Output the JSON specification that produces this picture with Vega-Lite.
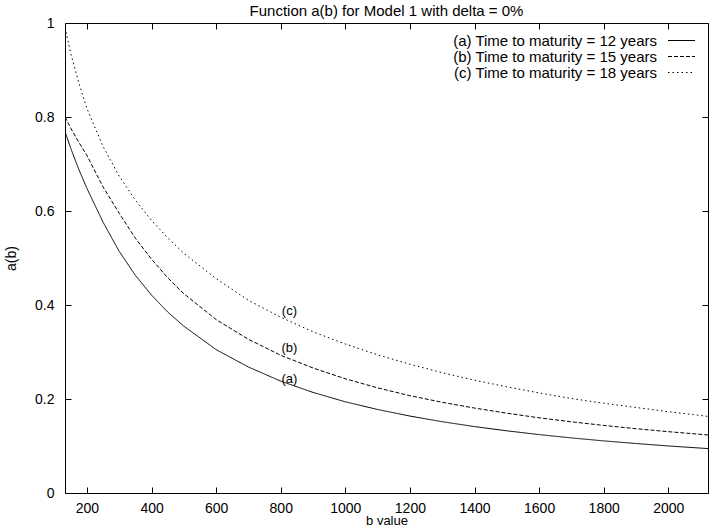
{
  "$schema": "https://vega.github.io/schema/vega-lite/v6.json",
  "width": 643,
  "height": 470,
  "autosize": {"type": "none"},
  "padding": {"left": 65, "top": 23, "right": 1, "bottom": 33},
  "background": "white",
  "title": {"text": "Function a(b) for Model 1 with delta = 0%", "fontSize": 15, "font": "Liberation Sans", "fontWeight": "normal", "offset": -3, "frame": "group", "anchor": "middle", "color": "black"},
  "config": {
    "view": {"stroke": "black", "strokeWidth": 1},
    "font": "Liberation Sans",
    "axis": {"grid": false, "domain": false, "tickColor": "black", "tickSize": -6, "labelColor": "black", "labelFont": "Liberation Sans", "labelFontSize": 14, "titleFont": "Liberation Sans", "titleFontSize": 14, "titleFontWeight": "normal", "titleColor": "black"}
  },
  "datasets": {
    "curves": [
      {"b": 132, "a": 0.769, "series": "(a) Time to maturity = 12 years"},
      {"b": 150, "a": 0.733, "series": "(a) Time to maturity = 12 years"},
      {"b": 175, "a": 0.688, "series": "(a) Time to maturity = 12 years"},
      {"b": 200, "a": 0.648, "series": "(a) Time to maturity = 12 years"},
      {"b": 250, "a": 0.576, "series": "(a) Time to maturity = 12 years"},
      {"b": 300, "a": 0.514, "series": "(a) Time to maturity = 12 years"},
      {"b": 350, "a": 0.463, "series": "(a) Time to maturity = 12 years"},
      {"b": 400, "a": 0.421, "series": "(a) Time to maturity = 12 years"},
      {"b": 450, "a": 0.385, "series": "(a) Time to maturity = 12 years"},
      {"b": 500, "a": 0.355, "series": "(a) Time to maturity = 12 years"},
      {"b": 600, "a": 0.305, "series": "(a) Time to maturity = 12 years"},
      {"b": 700, "a": 0.268, "series": "(a) Time to maturity = 12 years"},
      {"b": 800, "a": 0.238, "series": "(a) Time to maturity = 12 years"},
      {"b": 900, "a": 0.214, "series": "(a) Time to maturity = 12 years"},
      {"b": 1000, "a": 0.194, "series": "(a) Time to maturity = 12 years"},
      {"b": 1100, "a": 0.1777, "series": "(a) Time to maturity = 12 years"},
      {"b": 1200, "a": 0.1637, "series": "(a) Time to maturity = 12 years"},
      {"b": 1300, "a": 0.1517, "series": "(a) Time to maturity = 12 years"},
      {"b": 1400, "a": 0.1413, "series": "(a) Time to maturity = 12 years"},
      {"b": 1500, "a": 0.1323, "series": "(a) Time to maturity = 12 years"},
      {"b": 1600, "a": 0.1243, "series": "(a) Time to maturity = 12 years"},
      {"b": 1700, "a": 0.1172, "series": "(a) Time to maturity = 12 years"},
      {"b": 1800, "a": 0.1109, "series": "(a) Time to maturity = 12 years"},
      {"b": 1900, "a": 0.1053, "series": "(a) Time to maturity = 12 years"},
      {"b": 2000, "a": 0.1001, "series": "(a) Time to maturity = 12 years"},
      {"b": 2123, "a": 0.0945, "series": "(a) Time to maturity = 12 years"},
      {"b": 132, "a": 0.800, "series": "(b) Time to maturity = 15 years"},
      {"b": 150, "a": 0.776, "series": "(b) Time to maturity = 15 years"},
      {"b": 175, "a": 0.746, "series": "(b) Time to maturity = 15 years"},
      {"b": 200, "a": 0.718, "series": "(b) Time to maturity = 15 years"},
      {"b": 250, "a": 0.651, "series": "(b) Time to maturity = 15 years"},
      {"b": 300, "a": 0.595, "series": "(b) Time to maturity = 15 years"},
      {"b": 350, "a": 0.542, "series": "(b) Time to maturity = 15 years"},
      {"b": 400, "a": 0.4975, "series": "(b) Time to maturity = 15 years"},
      {"b": 450, "a": 0.458, "series": "(b) Time to maturity = 15 years"},
      {"b": 500, "a": 0.424, "series": "(b) Time to maturity = 15 years"},
      {"b": 600, "a": 0.369, "series": "(b) Time to maturity = 15 years"},
      {"b": 700, "a": 0.327, "series": "(b) Time to maturity = 15 years"},
      {"b": 800, "a": 0.293, "series": "(b) Time to maturity = 15 years"},
      {"b": 900, "a": 0.266, "series": "(b) Time to maturity = 15 years"},
      {"b": 1000, "a": 0.243, "series": "(b) Time to maturity = 15 years"},
      {"b": 1100, "a": 0.2237, "series": "(b) Time to maturity = 15 years"},
      {"b": 1200, "a": 0.207, "series": "(b) Time to maturity = 15 years"},
      {"b": 1300, "a": 0.193, "series": "(b) Time to maturity = 15 years"},
      {"b": 1400, "a": 0.1807, "series": "(b) Time to maturity = 15 years"},
      {"b": 1500, "a": 0.1698, "series": "(b) Time to maturity = 15 years"},
      {"b": 1600, "a": 0.160, "series": "(b) Time to maturity = 15 years"},
      {"b": 1700, "a": 0.1515, "series": "(b) Time to maturity = 15 years"},
      {"b": 1800, "a": 0.1438, "series": "(b) Time to maturity = 15 years"},
      {"b": 1900, "a": 0.1368, "series": "(b) Time to maturity = 15 years"},
      {"b": 2000, "a": 0.1305, "series": "(b) Time to maturity = 15 years"},
      {"b": 2123, "a": 0.1235, "series": "(b) Time to maturity = 15 years"},
      {"b": 132, "a": 0.990, "series": "(c) Time to maturity = 18 years"},
      {"b": 150, "a": 0.935, "series": "(c) Time to maturity = 18 years"},
      {"b": 175, "a": 0.872, "series": "(c) Time to maturity = 18 years"},
      {"b": 200, "a": 0.818, "series": "(c) Time to maturity = 18 years"},
      {"b": 250, "a": 0.737, "series": "(c) Time to maturity = 18 years"},
      {"b": 300, "a": 0.674, "series": "(c) Time to maturity = 18 years"},
      {"b": 350, "a": 0.623, "series": "(c) Time to maturity = 18 years"},
      {"b": 400, "a": 0.580, "series": "(c) Time to maturity = 18 years"},
      {"b": 450, "a": 0.543, "series": "(c) Time to maturity = 18 years"},
      {"b": 500, "a": 0.510, "series": "(c) Time to maturity = 18 years"},
      {"b": 600, "a": 0.456, "series": "(c) Time to maturity = 18 years"},
      {"b": 700, "a": 0.410, "series": "(c) Time to maturity = 18 years"},
      {"b": 800, "a": 0.374, "series": "(c) Time to maturity = 18 years"},
      {"b": 900, "a": 0.343, "series": "(c) Time to maturity = 18 years"},
      {"b": 1000, "a": 0.317, "series": "(c) Time to maturity = 18 years"},
      {"b": 1100, "a": 0.294, "series": "(c) Time to maturity = 18 years"},
      {"b": 1200, "a": 0.274, "series": "(c) Time to maturity = 18 years"},
      {"b": 1300, "a": 0.256, "series": "(c) Time to maturity = 18 years"},
      {"b": 1400, "a": 0.240, "series": "(c) Time to maturity = 18 years"},
      {"b": 1500, "a": 0.226, "series": "(c) Time to maturity = 18 years"},
      {"b": 1600, "a": 0.213, "series": "(c) Time to maturity = 18 years"},
      {"b": 1700, "a": 0.201, "series": "(c) Time to maturity = 18 years"},
      {"b": 1800, "a": 0.191, "series": "(c) Time to maturity = 18 years"},
      {"b": 1900, "a": 0.182, "series": "(c) Time to maturity = 18 years"},
      {"b": 2000, "a": 0.173, "series": "(c) Time to maturity = 18 years"},
      {"b": 2123, "a": 0.163, "series": "(c) Time to maturity = 18 years"}
    ],
    "labels": [
      {"b": 827, "a": 0.243, "label": "(a)"},
      {"b": 827, "a": 0.309, "label": "(b)"},
      {"b": 827, "a": 0.388, "label": "(c)"}
    ]
  },
  "resolve": {"axis": {"x": "independent", "y": "independent"}},
  "layer": [
    {
      "data": {"name": "curves"},
      "mark": {"type": "line", "color": "black", "strokeWidth": 1, "clip": true},
      "encoding": {
        "x": {"field": "b", "type": "quantitative", "scale": {"domain": [132, 2123], "nice": false, "zero": false},
              "axis": {"orient": "bottom", "values": [200, 400, 600, 800, 1000, 1200, 1400, 1600, 1800, 2000], "format": "d", "labelPadding": 14, "title": "b value", "titleFontSize": 13, "titlePadding": -1}},
        "y": {"field": "a", "type": "quantitative", "scale": {"domain": [0, 1], "nice": false},
              "axis": {"orient": "left", "values": [0, 0.2, 0.4, 0.6, 0.8, 1], "format": ".1~f", "labelPadding": 17, "title": "a(b)", "titlePadding": 16}},
        "strokeDash": {"field": "series", "type": "nominal",
          "scale": {"domain": ["(a) Time to maturity = 12 years", "(b) Time to maturity = 15 years", "(c) Time to maturity = 18 years"], "range": [[1, 0], [4, 2], [1.5, 3]]},
          "legend": {"title": null, "orient": "none", "legendX": 609, "legendY": 10, "symbolType": "M-2.7,0H2.7", "symbolSize": 100, "symbolStrokeColor": "black", "symbolFillColor": "transparent", "symbolStrokeWidth": 1, "labelAlign": "right", "labelOffset": -32, "labelFontSize": 15, "labelFont": "Liberation Sans", "labelColor": "black", "rowPadding": 0, "labelLimit": 400, "padding": 0}}
      }
    },
    {
      "data": {"name": "labels"},
      "mark": {"type": "text", "fontSize": 13, "font": "Liberation Sans", "color": "black"},
      "encoding": {
        "x": {"field": "b", "type": "quantitative", "axis": {"orient": "top", "values": [200, 400, 600, 800, 1000, 1200, 1400, 1600, 1800, 2000], "labels": false, "title": null, "minExtent": 0, "maxExtent": 0}},
        "y": {"field": "a", "type": "quantitative", "axis": {"orient": "right", "values": [0, 0.2, 0.4, 0.6, 0.8, 1], "labels": false, "title": null, "minExtent": 0, "maxExtent": 0}},
        "text": {"field": "label"}
      }
    }
  ]
}
